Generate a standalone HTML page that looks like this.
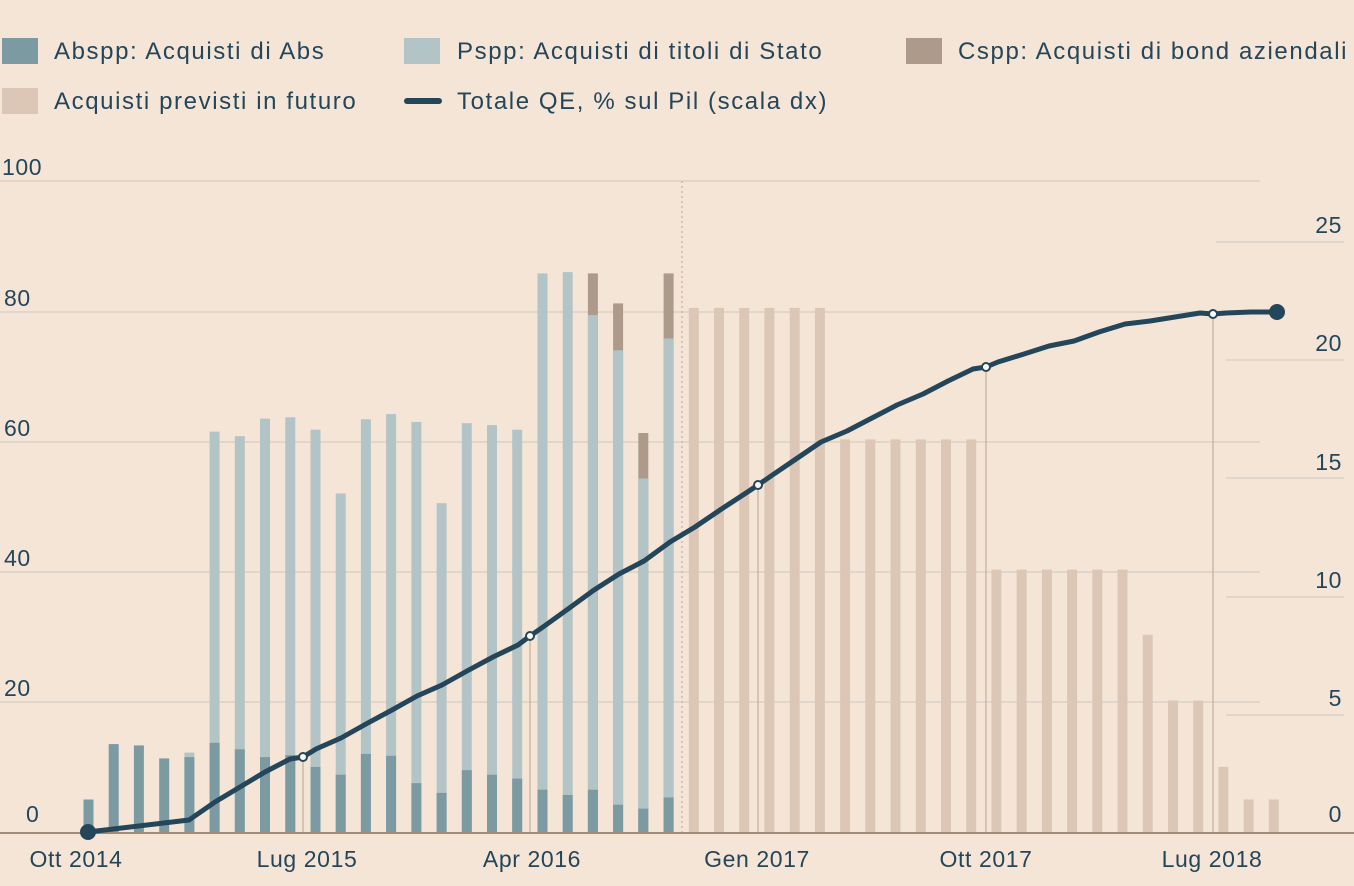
<!DOCTYPE html>
<html><head><meta charset="utf-8"><style>
html,body{margin:0;padding:0;background:#f5e5d6;}
svg{display:block;font-family:"Liberation Sans",sans-serif;}
</style></head><body>
<svg width="1354" height="886" viewBox="0 0 1354 886" xmlns="http://www.w3.org/2000/svg">
<rect width="1354" height="886" fill="#f5e5d6"/>
<g font-size="24" fill="#24465a" letter-spacing="1.6">
<rect x="2" y="38" width="36" height="26" fill="#7b9aa2"/><text x="54" y="59">Abspp: Acquisti di Abs</text>
<rect x="404" y="38" width="36" height="26" fill="#b3c4c6"/><text x="457" y="59">Pspp: Acquisti di titoli di Stato</text>
<rect x="906" y="38" width="36" height="26" fill="#ad9a8a"/><text x="958" y="59">Cspp: Acquisti di bond aziendali</text>
<rect x="2" y="88" width="36" height="26" fill="#dcc7b6"/><text x="54" y="109">Acquisti previsti in futuro</text>
<rect x="404" y="98" width="38" height="6" rx="3" fill="#24465a"/><text x="457" y="109">Totale QE, % sul Pil (scala dx)</text>
</g>
<g stroke="#e0d6cb" stroke-width="2">
<line x1="0" y1="181" x2="1260" y2="181"/><line x1="0" y1="312" x2="1260" y2="312"/><line x1="0" y1="442" x2="1260" y2="442"/><line x1="0" y1="572" x2="1260" y2="572"/><line x1="0" y1="702" x2="1260" y2="702"/>
<line x1="1216" y1="242" x2="1344" y2="242"/><line x1="1226" y1="360" x2="1344" y2="360"/><line x1="1226" y1="478" x2="1344" y2="478"/><line x1="1226" y1="597" x2="1344" y2="597"/><line x1="1226" y1="715" x2="1344" y2="715"/>
</g>
<g font-size="23" fill="#24465a" letter-spacing="0.6">
<text x="2" y="175">100</text><text x="4" y="306">80</text><text x="4" y="436">60</text><text x="4" y="566">40</text><text x="4" y="696">20</text><text x="26" y="822">0</text>
<text x="1342" y="233" text-anchor="end">25</text><text x="1342" y="351" text-anchor="end">20</text><text x="1342" y="470" text-anchor="end">15</text><text x="1342" y="588" text-anchor="end">10</text><text x="1342" y="706" text-anchor="end">5</text><text x="1342" y="822" text-anchor="end">0</text>
<text x="76" y="867" text-anchor="middle">Ott 2014</text><text x="307" y="867" text-anchor="middle">Lug 2015</text><text x="532" y="867" text-anchor="middle">Apr 2016</text><text x="757" y="867" text-anchor="middle">Gen 2017</text><text x="986" y="867" text-anchor="middle">Ott 2017</text><text x="1212" y="867" text-anchor="middle">Lug 2018</text>
</g>
<!-- cspp -->
<g fill="#ad9a8a">
<rect x="587.9" y="273.4" width="10" height="558.6"/>
<rect x="613.1" y="303.4" width="10" height="528.6"/>
<rect x="638.3" y="433.0" width="10" height="399"/>
<rect x="663.6" y="273.4" width="10" height="558.6"/>
</g>
<!-- pspp -->
<g fill="#b3c4c6">
<rect x="184.4" y="752.6" width="10" height="79.4"/>
<rect x="209.6" y="431.6" width="10" height="400.4"/>
<rect x="234.8" y="436.2" width="10" height="395.8"/>
<rect x="260.0" y="418.6" width="10" height="413.4"/>
<rect x="285.3" y="417.3" width="10" height="414.7"/>
<rect x="310.5" y="429.7" width="10" height="402.3"/>
<rect x="335.7" y="493.5" width="10" height="338.5"/>
<rect x="360.9" y="419.3" width="10" height="412.7"/>
<rect x="386.1" y="414.1" width="10" height="417.9"/>
<rect x="411.4" y="421.9" width="10" height="410.1"/>
<rect x="436.6" y="503.2" width="10" height="328.8"/>
<rect x="461.8" y="423.2" width="10" height="408.8"/>
<rect x="487.0" y="425.1" width="10" height="406.9"/>
<rect x="512.2" y="429.7" width="10" height="402.3"/>
<rect x="537.5" y="273.4" width="10" height="558.6"/>
<rect x="562.7" y="272.1" width="10" height="559.9"/>
<rect x="587.9" y="315.1" width="10" height="516.9"/>
<rect x="613.1" y="350.3" width="10" height="481.7"/>
<rect x="638.3" y="478.5" width="10" height="353.5"/>
<rect x="663.6" y="338.5" width="10" height="493.5"/>
</g>
<!-- abs -->
<g fill="#7b9aa2">
<rect x="83.5" y="799.5" width="10" height="32.5"/>
<rect x="108.7" y="744.1" width="10" height="87.9"/>
<rect x="133.9" y="745.4" width="10" height="86.6"/>
<rect x="159.2" y="758.4" width="10" height="73.6"/>
<rect x="184.4" y="757.1" width="10" height="74.9"/>
<rect x="209.6" y="742.8" width="10" height="89.2"/>
<rect x="234.8" y="749.3" width="10" height="82.7"/>
<rect x="260.0" y="757.1" width="10" height="74.9"/>
<rect x="285.3" y="755.2" width="10" height="76.8"/>
<rect x="310.5" y="766.9" width="10" height="65.1"/>
<rect x="335.7" y="774.7" width="10" height="57.3"/>
<rect x="360.9" y="753.9" width="10" height="78.1"/>
<rect x="386.1" y="755.8" width="10" height="76.2"/>
<rect x="411.4" y="783.2" width="10" height="48.8"/>
<rect x="436.6" y="792.9" width="10" height="39.1"/>
<rect x="461.8" y="770.2" width="10" height="61.8"/>
<rect x="487.0" y="774.7" width="10" height="57.3"/>
<rect x="512.2" y="778.6" width="10" height="53.4"/>
<rect x="537.5" y="789.7" width="10" height="42.3"/>
<rect x="562.7" y="794.9" width="10" height="37.1"/>
<rect x="587.9" y="789.7" width="10" height="42.3"/>
<rect x="613.1" y="804.7" width="10" height="27.3"/>
<rect x="638.3" y="808.6" width="10" height="23.4"/>
<rect x="663.6" y="797.5" width="10" height="34.5"/>
</g>
<!-- future -->
<g fill="#dcc7b6">
<rect x="688.8" y="307.9" width="10" height="524.1"/>
<rect x="714.0" y="307.9" width="10" height="524.1"/>
<rect x="739.2" y="307.9" width="10" height="524.1"/>
<rect x="764.4" y="307.9" width="10" height="524.1"/>
<rect x="789.7" y="307.9" width="10" height="524.1"/>
<rect x="814.9" y="307.9" width="10" height="524.1"/>
<rect x="840.1" y="439.4" width="10" height="392.6"/>
<rect x="865.3" y="439.4" width="10" height="392.6"/>
<rect x="890.5" y="439.4" width="10" height="392.6"/>
<rect x="915.8" y="439.4" width="10" height="392.6"/>
<rect x="941.0" y="439.4" width="10" height="392.6"/>
<rect x="966.2" y="439.4" width="10" height="392.6"/>
<rect x="991.4" y="569.6" width="10" height="262.4"/>
<rect x="1016.6" y="569.6" width="10" height="262.4"/>
<rect x="1041.9" y="569.6" width="10" height="262.4"/>
<rect x="1067.1" y="569.6" width="10" height="262.4"/>
<rect x="1092.3" y="569.6" width="10" height="262.4"/>
<rect x="1117.5" y="569.6" width="10" height="262.4"/>
<rect x="1142.7" y="634.7" width="10" height="197.3"/>
<rect x="1168.0" y="700.5" width="10" height="131.5"/>
<rect x="1193.2" y="700.5" width="10" height="131.5"/>
<rect x="1218.4" y="766.9" width="10" height="65.1"/>
<rect x="1243.6" y="799.5" width="10" height="32.5"/>
<rect x="1268.8" y="799.5" width="10" height="32.5"/>
</g>
<line x1="682" y1="181" x2="682" y2="832" stroke="#b8a595" stroke-width="1" stroke-dasharray="2,3"/>
<g stroke="#b8a595" stroke-width="1">
<line x1="303" y1="757" x2="303" y2="832"/><line x1="530" y1="636" x2="530" y2="832"/><line x1="758" y1="485" x2="758" y2="832"/><line x1="986" y1="367" x2="986" y2="832"/><line x1="1213" y1="314" x2="1213" y2="832"/>
</g>
<line x1="0" y1="833" x2="1354" y2="833" stroke="#a08a78" stroke-width="2"/>
<polyline fill="none" stroke="#24465a" stroke-width="5" stroke-linejoin="round" points="88,832 189,820 215,802 240,787 265,772 290,759 303,757 316,749 341,738 366,724 392,710 417,696 442,685 467,671 493,657 518,645 530,636 543,627 568,609 594,590 619,574 644,561 670,542 695,527 720,510 746,493 758,485 771,476 796,459 821,442 847,431 872,418 897,405 923,394 948,381 973,369 986,367 998,362 1024,354 1049,346 1074,341 1099,332 1125,324 1150,321 1175,317 1200,313 1213,314 1226,313 1251,312 1278,312"/>
<circle cx="88" cy="832" r="8" fill="#24465a"/><circle cx="1277" cy="312" r="8" fill="#24465a"/>
<g fill="#fff" stroke="#24465a" stroke-width="2">
<circle cx="303" cy="757" r="4"/><circle cx="530" cy="636" r="4"/><circle cx="758" cy="485" r="4"/><circle cx="986" cy="367" r="4"/><circle cx="1213" cy="314" r="4"/>
</g>
</svg>
</body></html>
